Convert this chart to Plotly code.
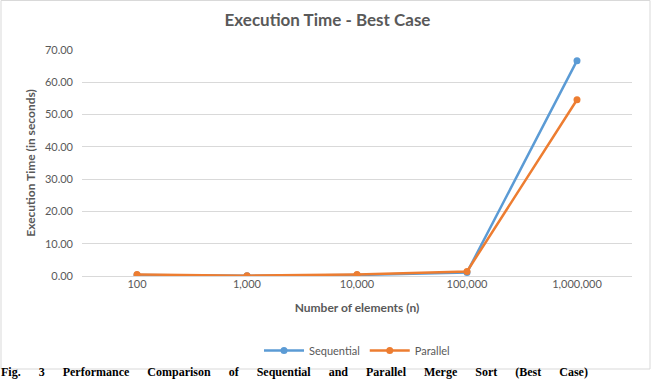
import plotly.graph_objects as go

categories = ["100", "1,000", "10,000", "100,000", "1,000,000"]
sequential = [0.3, 0.1, 0.3, 1.1, 66.7]
parallel = [0.5, 0.1, 0.5, 1.4, 54.6]

blue = "#5b9bd5"
orange = "#ed7d31"
font_family = "Lato, 'Open Sans', sans-serif"

fig = go.Figure()
fig.add_trace(go.Scatter(x=categories, y=sequential, name="Sequential", mode="lines+markers",
                         line=dict(color=blue, width=2.5), marker=dict(size=7, color=blue)))
fig.add_trace(go.Scatter(x=categories, y=parallel, name="Parallel", mode="lines+markers",
                         line=dict(color=orange, width=2.5), marker=dict(size=7, color=orange)))

fig.update_layout(
    width=655, height=380,
    margin=dict(l=82, r=23, t=50, b=104),
    paper_bgcolor="white", plot_bgcolor="white",
    font=dict(family=font_family, color="#595959", size=11),
    title=dict(text="<b>Execution Time - Best Case</b>", x=0.5, xanchor="center",
               y=1 - 20 / 380, yanchor="middle",
               font=dict(size=17, color="#595959", family=font_family)),
    showlegend=True,
    legend=dict(orientation="h", x=0.5, xanchor="center", y=-0.33, yanchor="middle",
                font=dict(size=11, color="#595959"), itemwidth=40),
    xaxis=dict(type="category", range=[-0.5, 4.5], showgrid=False, showline=False,
               ticks="", tickfont=dict(size=11, color="#595959"),
               title=dict(text="<b>Number of elements (n)</b>", font=dict(size=12, color="#595959"),
                          standoff=14)),
    yaxis=dict(range=[0, 70], dtick=10, tickformat=".2f", gridcolor="#d9d9d9", gridwidth=1,
               zeroline=True, zerolinecolor="#d9d9d9", zerolinewidth=1,
               showline=False, ticks="", ticklabelstandoff=8,
               tickfont=dict(size=11, color="#595959"),
               title=dict(text="<b>Execution Time (in seconds)</b>", font=dict(size=12, color="#595959"),
                          standoff=6)),
)

fig.add_shape(type="rect", xref="paper", yref="paper",
              x0=-81 / 550, x1=(650 - 82) / 550, y0=(276 - 369) / 226, y1=(276 - 0.5) / 226,
              line=dict(color="#d9d9d9", width=1), fillcolor="rgba(0,0,0,0)", layer="below")

caption_words = ["Fig.", "3", "Performance", "Comparison", "of", "Sequential", "and",
                 "Parallel", "Merge", "Sort", "(Best", "Case)"]
caption = ("&nbsp;" * 6).join(caption_words)
fig.add_annotation(text="<b>" + caption + "</b>",
                   xref="paper", yref="paper", x=-82 / 550, xanchor="left",
                   y=(276 - 380) / 226, yanchor="bottom", showarrow=False, borderpad=0,
                   font=dict(family="'Liberation Serif', 'DejaVu Serif', serif", size=12, color="black"))

fig.write_html("out.html")
